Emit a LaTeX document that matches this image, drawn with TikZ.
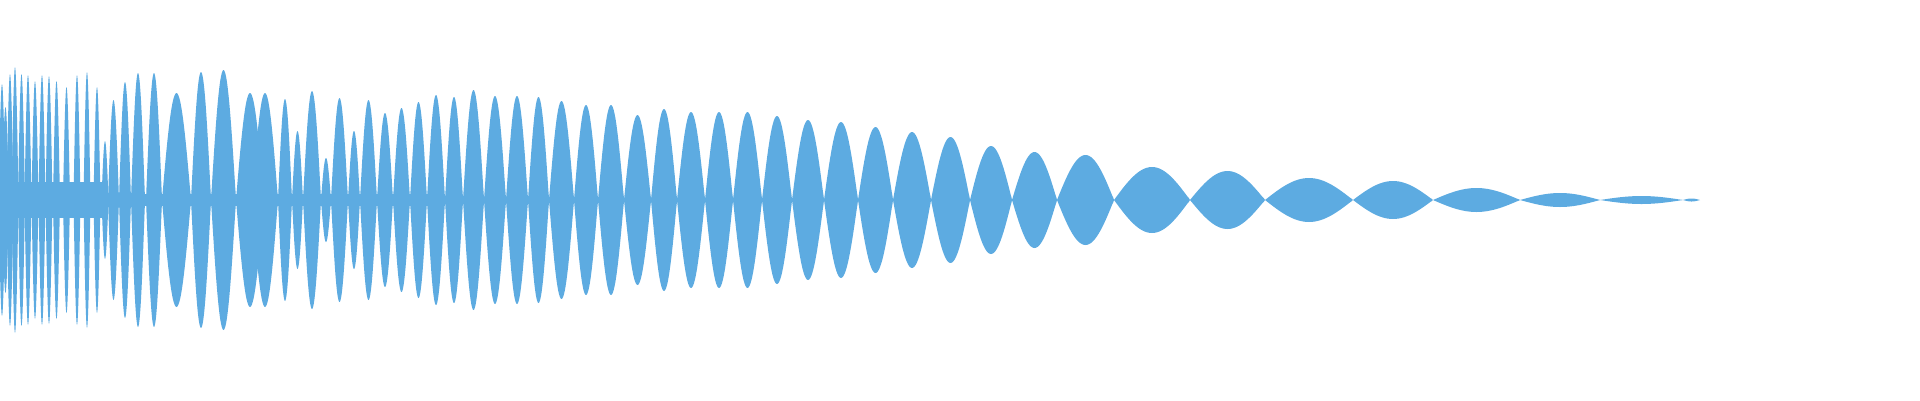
\documentclass[tikz,border=0pt]{standalone}
\definecolor{wave}{HTML}{5DABE1}
\begin{document}
\begin{tikzpicture}[x=1pt,y=-1pt,wavefill/.style={fill=wave}]
\useasboundingbox (0,0) rectangle (1920,400);
\fill[wave] (0,182) rectangle (104,218);
\fill[wave] (104,194) rectangle (445,206);
% dense spikes
\foreach \c/\a in {2/116,5.5/93,10/126,15/133,21.5/126,28/125,35/119,42/125,49/124,56.5/119,66.5/113,77/125,87/128,97/113,105/59}{
  \fill[wavefill] plot[domain=0:2,samples=41,smooth] ({\c-3.5+7*(1-abs(1-\x))},{200-\a*sin(\x*180)}) -- cycle;
}
\foreach \p/\q/\a in {108/119/100,119/131/118,131/145/127,146/162/127,162/191/107,191/211/128,211/236/130,236/264/107,252/278/107,278/292/101,292/303/69,303/321/109,321/331/42,331/348/102,348/360/69,360/377/100,377/393/87,393/410/92,410/427/98,427/445/105,445/463/103,463/484/110,484/506/104,506/528/104,528/549/103,549/574/99,574/598/95,598/624/95,624/651/85,651/677/91,677/705/88,705/733/88,733/762/88,762/792/84,792/824/80,824/858/78,858/893/73,893/931/68,931/970/63,970/1012/54,1012/1057/48,1057/1114/45,1114/1190/33,1190/1265/29,1265/1353/22,1353/1433/19,1433/1520/12,1520/1600/7,1600/1683/4,1683/1700/1.5}{
  \fill[wavefill] plot[domain=0:2,samples=61,smooth] ({\p+(\q-\p)*(1-abs(1-\x))},{200-\a*sin(\x*180)}) -- cycle;
}
\end{tikzpicture}
\end{document}
